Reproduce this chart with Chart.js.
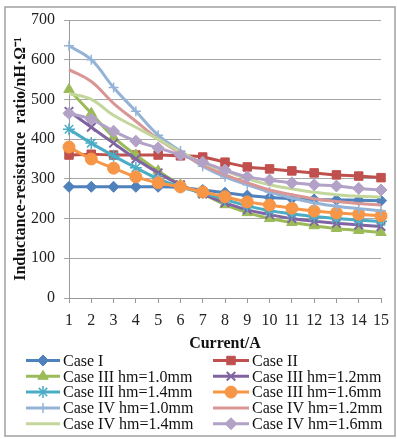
<!DOCTYPE html>
<html><head><meta charset="utf-8">
<script src="https://cdn.jsdelivr.net/npm/chart.js@4/dist/chart.umd.min.js"></script>
<style>html,body{margin:0;padding:0;background:#fff}#wrap{width:397px;height:439px;position:relative}</style>
</head><body><div id="wrap"><canvas id="c" width="397" height="439"></canvas></div>
<script>
const categories = ['1','2','3','4','5','6','7','8','9','10','11','12','13','14','15'];
const yTicks = [0,100,200,300,400,500,600,700];
const seriesNames = ['Case I','Case II','Case III hm=1.0mm','Case III hm=1.2mm','Case III hm=1.4mm','Case III hm=1.6mm','Case IV hm=1.0mm','Case IV hm=1.2mm','Case IV hm=1.4mm','Case IV hm=1.6mm'];
const caseI      = [280,280,280,280,280,278,272,265,258,253,250,248,247,246,245];
const caseII     = [360,362,360,360,360,358,355,342,330,325,320,315,310,307,303];
const caseIII_10 = [525,465,405,360,320,285,262,235,215,200,190,182,175,170,165];
const caseIII_12 = [470,430,390,350,315,285,262,240,222,210,200,193,188,184,180];
const caseIII_14 = [425,390,358,328,300,280,265,248,232,220,212,205,200,196,193];
const caseIII_16 = [380,350,327,305,290,280,267,255,242,234,226,219,214,211,207];
const caseIV_10  = [635,600,530,470,410,370,332,305,285,267,252,240,231,225,220];
const caseIV_12  = [575,545,490,445,400,365,335,310,290,272,260,250,243,238,234];
const caseIV_14  = [515,500,460,430,400,368,340,320,300,285,275,266,260,256,254];
const caseIV_16  = [465,450,420,395,378,360,342,322,305,297,290,285,282,276,272];

const seriesValues = [caseI,caseII,caseIII_10,caseIII_12,caseIII_14,caseIII_16,caseIV_10,caseIV_12,caseIV_14,caseIV_16];
const styles = [
  {c:'#4F81BD', p:'rectRot', r:5.5, bw:1},
  {c:'#C0504D', p:'rect', r:6, bw:1},
  {c:'#9BBB59', p:'triangle', r:6, bw:1},
  {c:'#8064A2', p:'crossRot', r:6, bw:2},
  {c:'#4BACC6', p:'star', r:6, bw:1.5},
  {c:'#F79646', p:'circle', r:6, bw:1},
  {c:'#95B3D7', p:'cross', r:5, bw:1.5},
  {c:'#D99694', p:false, r:0, bw:1},
  {c:'#C3D69B', p:false, r:0, bw:1},
  {c:'#B3A2C7', p:'rectRot', r:6, bw:1}
];

const datasets = seriesValues.map((vals,i)=>({
  label: seriesNames[i],
  data: vals,
  borderColor: styles[i].c,
  backgroundColor: styles[i].c,
  borderWidth: 3,
  tension: 0.4,
  pointStyle: styles[i].p || 'circle',
  pointRadius: styles[i].r,
  pointBorderWidth: styles[i].bw,
  pointBorderColor: styles[i].c,
  pointBackgroundColor: styles[i].c,
  order: 20 - i,
  fill: false
}));

const serif = '"Liberation Serif", "Times New Roman", serif';

const legendPlugin = {
  id: 'customLegend',
  afterDraw(chart) {
    const ctx = chart.ctx;
    ctx.save();
    // outer border
    ctx.strokeStyle = '#a0a0a0';
    ctx.lineWidth = 1.5;
    ctx.strokeRect(5, 7, 390, 429);
    ctx.font = '16px ' + serif;
    ctx.textBaseline = 'middle';
    ctx.textAlign = 'left';
    const cols = [{x0:26, x1:60, tx:63},{x0:213, x1:249, tx:252}];
    datasets.forEach((ds,i)=>{
      const col = cols[i%2];
      const y = 360.5 + Math.floor(i/2)*15.8;
      ctx.strokeStyle = ds.borderColor;
      ctx.lineWidth = 3;
      ctx.beginPath(); ctx.moveTo(col.x0, y); ctx.lineTo(col.x1, y); ctx.stroke();
      if (styles[i].p) {
        ctx.fillStyle = ds.borderColor;
        ctx.strokeStyle = ds.borderColor;
        ctx.lineWidth = styles[i].bw;
        Chart.helpers.drawPoint(ctx, {pointStyle: styles[i].p, radius: styles[i].r, rotation: 0, borderWidth: styles[i].bw}, (col.x0+col.x1)/2, y);
      }
      ctx.fillStyle = '#111';
      ctx.fillText(ds.label, col.tx, y + 1);
    });
    ctx.restore();
  }
};

const bgPlugin = {
  id: 'bg',
  beforeDraw(chart){ const c=chart.ctx; c.save(); c.fillStyle='#fff'; c.fillRect(0,0,chart.width,chart.height); c.restore(); }
};

new Chart(document.getElementById('c'), {
  type: 'line',
  data: { labels: categories, datasets },
  plugins: [bgPlugin, legendPlugin],
  options: {
    responsive: false,
    animation: false,
    devicePixelRatio: 1,
    layout: { padding: { left: 0, right: 16, top: 20, bottom: 85.6 } },
    plugins: { legend: { display: false }, tooltip: { enabled: false } },
    scales: {
      x: {
        type: 'category',
        offset: false,
        afterFit(s){ s.height = 55.4; },
        grid: { drawOnChartArea: false, drawTicks: true, tickLength: 5, color: '#999', lineWidth: 1 },
        border: { display: true, color: '#999', width: 1 },
        ticks: { font: { family: serif, size: 16 }, color: '#222', padding: 8, maxRotation: 0, autoSkip: false },
        title: { display: true, text: 'Current/A', font: { family: serif, size: 16, weight: 'bold' }, color: '#111', padding: 0 }
      },
      y: {
        min: 0, max: 700,
        afterFit(s){ s.width = 69; },
        afterBuildTicks(s){ s.ticks = yTicks.map(v=>({value:v})); },
        grid: { drawTicks: true, tickLength: 5, color: '#a6a6a6', lineWidth: 1 },
        border: { display: true, color: '#999', width: 1 },
        ticks: { font: { family: serif, size: 16 }, color: '#222', padding: 9 },
        title: { display: true, text: 'Inductance-resistance  ratio/nH·Ω⁻¹', font: { family: serif, size: 16, weight: 'bold' }, color: '#111', padding: { top: 11.4, bottom: 0 } }
      }
    }
  }
});
</script></body></html>
